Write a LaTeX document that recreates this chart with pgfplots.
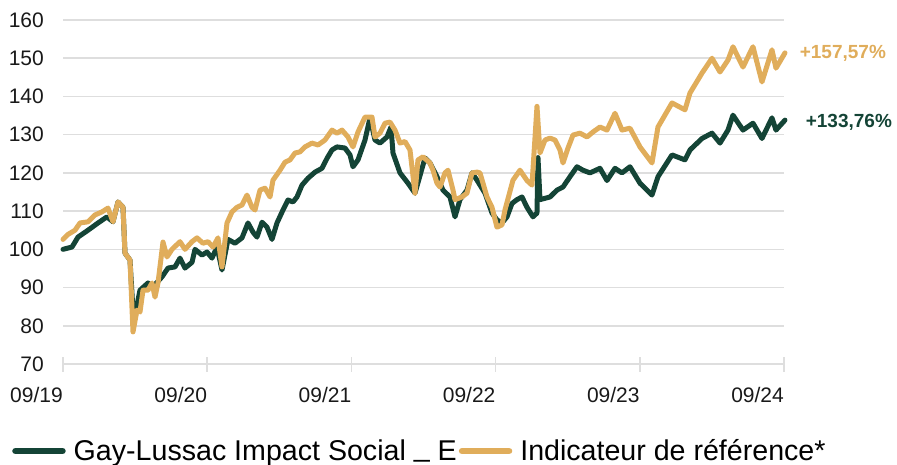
\documentclass[border=0pt]{standalone}
\usepackage{pgfplots}
\usepackage{pgfplotstable}
\pgfplotsset{compat=1.18}
\usepackage{fontspec}
\setmainfont{Liberation Sans}
\definecolor{fundgreen}{RGB}{20,68,54}
\definecolor{refgold}{RGB}{224,173,91}
\definecolor{gridgrey}{RGB}{222,222,222}

% px = horizontal position (63 = 09/19, 784 = 09/24), v = value
\pgfplotstableread{
px v
63 102.6
68 103.9
75 105
80 106.9
88 107.2
95 109
102 109.8
108 110.8
113 107.2
118 112.4
123 111
125 99
130 97.2
133 78.4
137 84.1
140 83.6
143 89.3
148 89.3
152 91.2
155 87.5
158 91.2
163 101.9
167 98
172 100
180 102
185 100
192 102
197 103
203 101.6
208 102
213 100.6
218 103
222 95.4
227 106.9
232 109.8
237 111
242 111.6
247 114.2
252 111
255 110.3
260 115.5
265 116
270 113.7
273 118.1
280 120.7
285 122.8
290 123.4
295 125.2
300 125.5
305 126.8
312 127.8
318 127.3
325 128.6
332 131.2
337 130.4
342 131.2
348 129.4
353 126.8
358 130.7
365 134.6
372 134.6
375 129.4
380 130.4
385 133
390 133.3
395 131.2
400 127.8
405 128.2
410 126
415 114.7
418 123.4
423 124.2
430 122.6
433 120.7
437 117.3
440 116.3
445 120
448 120.7
453 115.5
455 113
462 113.7
467 114.7
472 120
477 120.2
480 120
487 113.7
492 111
497 105.8
502 106.4
505 110.3
513 118.1
520 120.7
527 118
532 116.8
537 137.4
540 125.2
545 128.6
550 129.1
555 128.6
560 126
563 122.6
568 126.5
573 129.9
580 130.4
587 129.4
593 130.7
600 132
607 131.2
615 135.6
622 131.2
630 131.7
640 126.8
652 122.6
658 132
672 138.3
685 136.5
690 140.9
702 146.1
712 150
720 146.4
728 149.5
733 153
743 147.7
753 153
762 143.8
772 152.2
776 147.4
785 151.4
}\refdata

\pgfplotstableread{
px v
63 100
72 100.6
78 103.2
88 105
98 106.9
107 108.5
113 107.2
118 112.4
123 111
125 99
130 97.2
133 84
137 85.4
140 89.3
148 91.2
153 90.2
162 92.8
168 95.1
175 95.4
180 97.7
185 95.1
192 96.6
195 100
202 98.5
207 99.3
212 97.7
217 100.6
222 94.6
228 102.6
235 101.6
242 103
248 106.9
253 104.5
257 103.2
262 107.1
267 105.8
272 102.6
277 106.9
283 110.3
288 112.9
293 112.4
297 113.7
302 116.8
308 118.6
315 120.2
322 121.2
327 123.8
332 126
337 126.8
345 126.5
350 124.7
353 121.6
358 123.4
365 128.6
370 134.4
375 128.6
380 127.8
387 129.4
391 132
393 125.2
400 120
408 117.3
415 114.7
425 123.9
430 122.6
437 119
443 115.5
450 113.7
455 108.5
460 113
467 115.5
472 120
477 118.1
485 114.7
492 109.5
497 107.7
502 106.9
507 108.5
512 112
517 113
522 113.7
527 111
533 108.5
537 109.5
538 124
540 113
550 113.7
557 115.5
563 116.3
570 119
577 121.6
583 120.7
590 120
600 121.2
607 118
615 121.2
622 120
630 121.6
640 117.3
652 114.2
658 119
672 124.7
685 123.4
690 126
702 129
712 130.4
720 127.8
728 131.2
733 135.1
743 131.2
753 133
762 129
772 134.4
776 131.2
785 133.8
}\funddata

\begin{document}
\begin{tikzpicture}[x=1pt,y=1pt]
\useasboundingbox (0,0) rectangle (897,464);
\begin{axis}[
  at={(63pt,100pt)}, anchor=south west,
  width=721pt, height=344pt, scale only axis,
  xmin=0, xmax=60, ymin=70, ymax=160,
  clip=false,
  axis line style={draw=none},
  ytick={70,80,...,160},
  ymajorgrids,
  grid style={gridgrey, line width=1.6pt},
  ytick style={draw=none},
  xtick={0,12,24,36,48,60},
  xticklabels={09/19,09/20,09/21,09/22,09/23,09/24},
  xtick pos=bottom,
  xtick align=center,
  major tick length=15pt,
  xtick style={gridgrey, line width=1.6pt},
  tick label style={font=\fontsize{21}{25}\selectfont, text=black!90},
  /pgf/number format/assume math mode=true,
  yticklabel style={anchor=east, inner sep=0pt, xshift=-19pt},
  xticklabel style={anchor=north east, inner sep=0pt, yshift=-16pt},
  legend columns=2,
  legend style={draw=none, fill=none, inner sep=0pt,
    at={(axis description cs:-0.0707,-0.2530)}, anchor=west,
    font=\fontsize{28.6}{32}\selectfont,
    /tikz/every odd column/.append style={column sep=6pt}},
  legend image code/.code={\draw[#1, line width=6.5pt, line cap=round] (0pt,0pt) -- (47pt,0pt);},
]
\addplot[fundgreen, line width=5pt, line join=round, line cap=round]
  table[x expr={(\thisrow{px}-63)/12.017}, y=v] {\funddata};
\addlegendentry{Gay-Lussac Impact Social \raisebox{0.14em}{\_} E}
\addplot[refgold, line width=5pt, line join=round, line cap=round]
  table[x expr={(\thisrow{px}-63)/12.017}, y=v] {\refdata};
\addlegendentry{Indicateur de référence*}
\node[anchor=west, inner sep=0pt, text=refgold, font=\bfseries\fontsize{19}{22}\selectfont] at (axis cs:61.3,151.4) {+157,57\%};
\node[anchor=west, inner sep=0pt, text=fundgreen, font=\bfseries\fontsize{19}{22}\selectfont] at (axis cs:61.8,133.3) {+133,76\%};
\end{axis}
\end{tikzpicture}
\end{document}
